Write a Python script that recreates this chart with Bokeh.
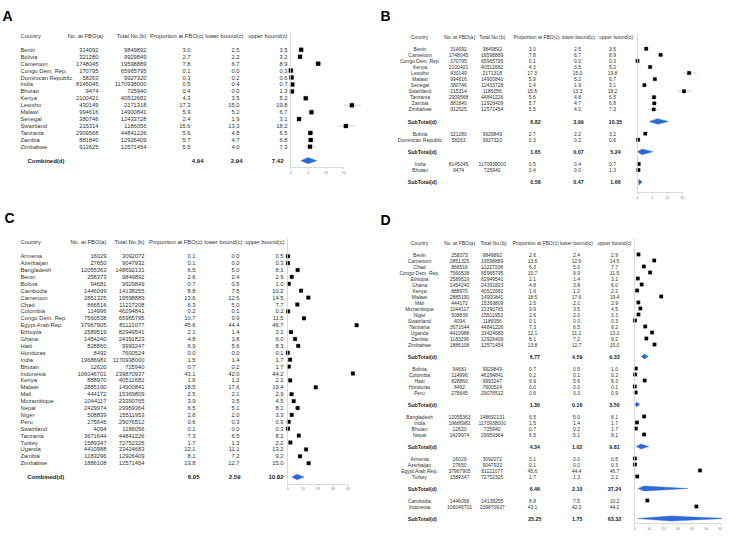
from bokeh.plotting import figure
from bokeh.models import Range1d, LinearAxis, FixedTicker
from bokeh.core.properties import value
from bokeh.embed import file_html
from bokeh.resources import INLINE

# ---------------- data ----------------
header = ["Country", "No. at FBO(a)", "Total No.(b)", "Proportion at FBO(c)", "lower bound(c)", "upper bound(c)"]

# Panel A / B countries
a_country = ["Benin", "Bolivia", "Cameroon", "Congo Dem. Rep.", "Dominican Republic", "India", "Bhutan",
             "Kenya", "Lesotho", "Malawi", "Senegal", "Swaziland", "Tanzania", "Zambia", "Zimbabwe"]
a_fbo = [314092, 321280, 1748045, 170795, 58263, 8145045, 9474, 2100421, 430149, 994616, 380746,
         215314, 2909568, 881840, 912625]
a_total = [9849892, 9929849, 19598889, 65965795, 9927320, 1170938000, 725940, 40512682, 2171318,
           14900841, 12433728, 1186056, 44841226, 12926409, 12571454]
a_prop = [3.0, 2.7, 7.8, 0.1, 0.3, 0.5, 0.4, 4.3, 17.3, 5.9, 2.4, 15.6, 5.6, 5.7, 5.5]
a_lower = [2.5, 2.2, 6.7, 0.0, 0.2, 0.4, 0.0, 3.5, 15.0, 5.2, 1.9, 13.3, 4.8, 4.7, 4.0]
a_upper = [3.5, 3.2, 8.9, 0.3, 0.6, 0.7, 1.3, 5.2, 19.8, 6.7, 3.1, 18.2, 6.5, 6.8, 7.3]
a_combined = [4.94, 2.94, 7.42]

b_groups = [["Benin", "Cameroon", "Congo Dem. Rep.", "Kenya", "Lesotho", "Malawi", "Senegal",
             "Swaziland", "Tanzania", "Zambia", "Zimbabwe"],
            ["Bolivia", "Dominican Republic"],
            ["India", "Bhutan"]]
b_subtotal = [[6.82, 3.99, 10.35], [1.65, 0.07, 5.24], [0.58, 0.47, 1.66]]

# Panel C / D countries
c_country = ["Armenia", "Azerbaijan", "Bangladesh", "Benin", "Bolivia", "Cambodia", "Cameroon", "Chad",
             "Colombia", "Congo Dem. Rep.", "Egypt Arab Rep.", "Ethiopia", "Ghana", "Haiti", "Honduras",
             "India", "Bhutan", "Indonesia", "Kenya", "Malawi", "Mali", "Mozambique", "Nepal", "Niger",
             "Peru", "Swaziland", "Tanzania", "Turkey", "Uganda", "Zambia", "Zimbabwe"]
c_fbo = [16029, 27650, 12055363, 258373, 94681, 1446099, 2851325, 866516, 114996, 7560538, 37967905,
         2589519, 1454240, 828860, 8492, 19686981, 12620, 106046701, 888970, 2885190, 444172, 1044117,
         2429974, 508839, 275645, 4094, 3671644, 1589347, 4410988, 1183296, 1886108]
c_total = [3092072, 9047932, 148692131, 9849892, 9929849, 14138255, 19598889, 11227208, 46294841,
           65965795, 81121077, 82949541, 24391823, 9993247, 7600524, 1170938000, 725940, 239870937,
           40512682, 14900841, 15369809, 23390765, 29959364, 15511953, 29076512, 1186056, 44841226,
           72752325, 33424683, 12926409, 12571454]
c_prop = [0.1, 0.1, 6.5, 2.6, 0.7, 8.8, 13.6, 6.3, 0.2, 10.7, 45.6, 2.1, 4.8, 6.9, 0.0, 1.5, 0.7, 43.1,
          1.6, 18.5, 2.5, 3.9, 6.5, 2.6, 0.6, 0.1, 7.3, 1.7, 12.1, 8.1, 13.8]
c_lower = [0.0, 0.0, 5.0, 2.4, 0.5, 7.5, 12.6, 5.0, 0.1, 9.9, 44.4, 1.4, 3.8, 5.6, 0.0, 1.4, 0.2, 42.0,
           1.2, 17.6, 2.1, 3.5, 5.1, 2.0, 0.3, 0.0, 6.5, 1.3, 11.1, 7.2, 12.7]
c_upper = [0.5, 0.3, 8.1, 2.9, 1.0, 10.2, 14.5, 7.7, 0.2, 11.5, 46.7, 3.1, 6.0, 8.3, 0.1, 1.7, 1.7, 44.2,
           2.2, 19.4, 2.9, 4.5, 8.1, 3.3, 0.9, 0.3, 8.2, 2.2, 13.2, 9.2, 15.0]
c_combined = [6.05, 2.59, 10.82]

d_groups = [["Benin", "Cameroon", "Chad", "Congo Dem. Rep.", "Ethiopia", "Ghana", "Kenya", "Malawi", "Mali",
             "Mozambique", "Niger", "Swaziland", "Tanzania", "Uganda", "Zambia", "Zimbabwe"],
            ["Bolivia", "Colombia", "Haiti", "Honduras", "Peru"],
            ["Bangladesh", "India", "Bhutan", "Nepal"],
            ["Armenia", "Azerbaijan", "Egypt Arab Rep.", "Turkey"],
            ["Cambodia", "Indonesia"]]
d_subtotal = [[6.77, 4.59, 9.33], [1.30, 0.16, 3.50], [4.34, 1.02, 9.81], [6.46, 2.10, 37.24],
              [25.25, 1.75, 63.32]]

a_ticks = [0, 5, 10, 15]
b_ticks = [0, 5, 10, 15]
c_ticks = [0, 10, 20, 30, 40]
d_ticks = [0, 10, 20, 30, 40, 50, 60]

# ---------------- layout / style ----------------
OFF = 0
W, H = 722, 531
FONT = "Liberation Sans"
TXT = "#333333"
BLUE = "#2a6ad6"
CI_C = "#c4c4c4"
AX_C = "#d0d0d0"

SPEC = {
    "A": dict(row0=49.3, pitch=6.93, zero=290.0, scale=3.55, sq=4.0, fs=5.8, bfs=6.0, dh=0.45, axgap=1.05),
    "B": dict(row0=48.3, pitch=6.06, zero=636.7, scale=3.0, sq=3.4, fs=5.0, bfs=5.3, dh=0.47, axgap=1.75),
    "C": dict(row0=255.7, pitch=6.9, zero=287.3, scale=1.51, sq=3.6, fs=5.8, bfs=6.0, dh=0.4, axgap=1.05),
    "D": dict(row0=254.0, pitch=6.0, zero=634.3, scale=1.43, sq=3.4, fs=5.0, bfs=5.3, dh=0.42, axgap=0.9),
}

p = figure(width=W, height=H, x_range=Range1d(0, W), y_range=Range1d(H, 0),
           x_axis_type=None, y_axis_type=None, toolbar_location=None,
           output_backend="svg", min_border=0, outline_line_color=None)
p.background_fill_color = "white"
p.border_fill_color = "white"

xr, yr = {}, {}
for k, s in SPEC.items():
    y0 = s["row0"] - OFF
    yr["r" + k] = Range1d(start=(H - y0) / s["pitch"], end=-y0 / s["pitch"])
    x0 = s["zero"] - OFF
    xr["f" + k] = Range1d(start=-x0 / s["scale"], end=(W - x0) / s["scale"])
p.extra_x_ranges = xr
p.extra_y_ranges = yr


def txt(xref, rows, texts, key, align, size, bold=False, color=TXT):
    p.text(x=[xref - OFF] * len(texts), y=rows, text=texts, y_range_name="r" + key,
           text_align=align, text_baseline="middle", text_font=value(FONT),
           text_font_size=f"{size}px", text_font_style="bold" if bold else "normal",
           text_color=color)


def fmt1(v):
    return [f"{x:.1f}" for x in v]


def forest(key, rows, prop, lo, hi, srows, sest, slo, shi, ticks, axis_row):
    s = SPEC[key]
    fx, ry = "f" + key, "r" + key
    p.segment(x0=lo, y0=rows, x1=hi, y1=rows, x_range_name=fx, y_range_name=ry,
              line_color=CI_C, line_width=0.8)
    p.scatter(x=prop, y=rows, marker="square", size=s["sq"], fill_color="black",
              line_color="black", line_width=0.3, x_range_name=fx, y_range_name=ry)
    xs = [[l, e, h, e] for e, l, h in zip(sest, slo, shi)]
    ys = [[r, r - s["dh"], r, r + s["dh"]] for r in srows]
    p.patches(xs=xs, ys=ys, fill_color=BLUE, line_color=BLUE, line_width=0.4,
              x_range_name=fx, y_range_name=ry)
    ax = LinearAxis(x_range_name=fx, y_range_name=ry, fixed_location=axis_row,
                    bounds=(ticks[0], ticks[-1]), ticker=FixedTicker(ticks=ticks, minor_ticks=[]))
    ax.axis_line_color = AX_C
    ax.axis_line_width = 0.8
    ax.major_tick_line_color = AX_C
    ax.major_tick_line_width = 0.8
    ax.major_tick_out = 2
    ax.major_tick_in = 0
    ax.minor_tick_out = 0
    ax.minor_tick_in = 0
    ax.major_label_standoff = 1
    ax.major_label_text_font_size = "3.5px"
    ax.major_label_text_color = "#777777"
    ax.major_label_text_font = FONT
    p.add_layout(ax, "below")
    vax = LinearAxis(x_range_name=fx, y_range_name=ry, fixed_location=ticks[0],
                     bounds=(-2.6, axis_row), ticker=FixedTicker(ticks=[], minor_ticks=[]))
    vax.axis_line_color = AX_C
    vax.axis_line_width = 0.8
    vax.major_tick_out = 0
    vax.minor_tick_out = 0
    p.add_layout(vax, "left")


# ---------------- panel letters ----------------
p.text(x=[2, 380, 4, 380], y=[15.5, 15.5, 217, 219], text=["A", "B", "C", "D"],
       text_align="left", text_baseline="alphabetic", text_font=value(FONT), text_font_size="14px",
       text_font_style="bold", text_color="black")

# ---------------- flat panels (A, C) ----------------
def flat_panel(key, country, fbo, total, prop, lo, hi, comb, ticks, hx, vx, cx):
    s = SPEC[key]
    n = len(country)
    rows = list(range(n))
    crow = n + 1
    for i, h in enumerate(header):
        txt(hx[i], [-2], [h], key, "left" if i == 0 else "right", s["fs"])
    cols = [country, [str(v) for v in fbo], [str(v) for v in total], fmt1(prop), fmt1(lo), fmt1(hi)]
    for i, c in enumerate(cols):
        txt(vx[i], rows, c, key, "left" if i == 0 else "right", s["fs"])
    txt(cx[0], [crow], ["Combined(d)"], key, "left", s["bfs"], bold=True, color="#222222")
    for j in range(3):
        txt(cx[j + 1], [crow], [f"{comb[j]:.2f}"], key, "right", s["bfs"], bold=True, color="#222222")
    forest(key, rows, prop, lo, hi, [crow], [comb[0]], [comb[1]], [comb[2]], ticks, crow + s["axgap"])


flat_panel("A", a_country, a_fbo, a_total, a_prop, a_lower, a_upper, a_combined, a_ticks,
           [20, 103, 146, 203, 243, 287], [20, 98, 146, 190, 239, 287], [27, 203, 242, 283])
flat_panel("C", c_country, c_fbo, c_total, c_prop, c_lower, c_upper, c_combined, c_ticks,
           [20, 106, 144, 202, 242, 284], [20, 106, 144, 195, 239, 283], [26.7, 199, 240, 283])


# ---------------- grouped panels (B, D) ----------------
def grouped_panel(key, groups, subs, country, fbo, total, prop, lo, hi, ticks, hx, vx, sx):
    s = SPEC[key]
    idx = {c: i for i, c in enumerate(country)}
    rows, names, f, t, pr, l, u = [], [], [], [], [], [], []
    srows = []
    r = 0
    for g in groups:
        for c in g:
            i = idx[c]
            rows.append(r)
            names.append(c)
            f.append(fbo[i]); t.append(total[i]); pr.append(prop[i]); l.append(lo[i]); u.append(hi[i])
            r += 1
        srows.append(r + 1)
        r += 3
    for i, h in enumerate(header):
        txt(hx[i], [-2], [h], key, "center", s["fs"])
    cols = [names, [str(v) for v in f], [str(v) for v in t], fmt1(pr), fmt1(l), fmt1(u)]
    for i, c in enumerate(cols):
        txt(vx[i], rows, c, key, "center", s["fs"])
    txt(sx[0], srows, ["SubTotal(d)"] * len(srows), key, "center", s["bfs"], bold=True, color="#222222")
    for j in range(3):
        txt(sx[j + 1], srows, [f"{sb[j]:.2f}" for sb in subs], key, "center", s["bfs"], bold=True,
            color="#222222")
    forest(key, rows, pr, l, u, srows, [sb[0] for sb in subs], [sb[1] for sb in subs],
           [sb[2] for sb in subs], ticks, srows[-1] + s["axgap"])


grouped_panel("B", b_groups, b_subtotal, a_country, a_fbo, a_total, a_prop, a_lower, a_upper, b_ticks,
              [419, 459, 491.7, 536, 578, 615.7], [419.5, 458, 491.7, 531.7, 577, 612],
              [421.7, 535, 578, 615])
grouped_panel("D", d_groups, d_subtotal, c_country, c_fbo, c_total, c_prop, c_lower, c_upper, d_ticks,
              [419, 459, 493, 535, 576, 614], [419, 459, 491.7, 532, 576, 614],
              [421.7, 534.3, 576.7, 614])

open("out.html", "w").write(file_html(p, INLINE))
